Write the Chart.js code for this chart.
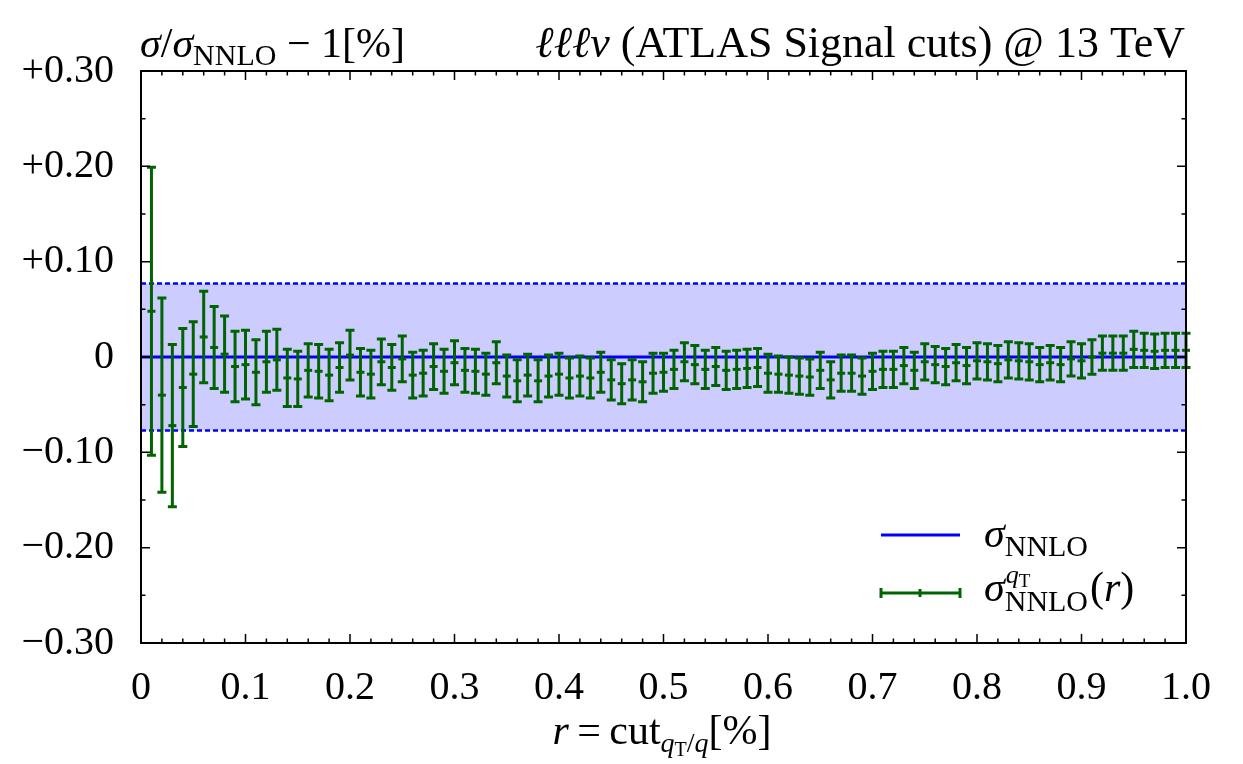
<!DOCTYPE html>
<html>
<head>
<meta charset="utf-8">
<script src="https://cdn.jsdelivr.net/npm/chart.js@4.4.0/dist/chart.umd.min.js"></script>
<style>
html,body{margin:0;padding:0;background:#fff;}
</style>
</head>
<body>
<canvas id="Plot" width="1243" height="764"></canvas>
<script>
// r = cut_{qT/q} values [%]
var rCut = [0.01,0.02,0.03,0.04,0.05,0.06,0.07,0.08,0.09,0.10,
            0.11,0.12,0.13,0.14,0.15,0.16,0.17,0.18,0.19,0.20,
            0.21,0.22,0.23,0.24,0.25,0.26,0.27,0.28,0.29,0.30,
            0.31,0.32,0.33,0.34,0.35,0.36,0.37,0.38,0.39,0.40,
            0.41,0.42,0.43,0.44,0.45,0.46,0.47,0.48,0.49,0.50,
            0.51,0.52,0.53,0.54,0.55,0.56,0.57,0.58,0.59,0.60,
            0.61,0.62,0.63,0.64,0.65,0.66,0.67,0.68,0.69,0.70,
            0.71,0.72,0.73,0.74,0.75,0.76,0.77,0.78,0.79,0.80,
            0.81,0.82,0.83,0.84,0.85,0.86,0.87,0.88,0.89,0.90,
            0.91,0.92,0.93,0.94,0.95,0.96,0.97,0.98,0.99,1.00];
// sigma^{qT}_{NNLO}(r)/sigma_NNLO - 1 [%]
var sigmaQT = [0.048,-0.040,-0.072,-0.032,-0.018,0.021,0.010,0.003,-0.010,-0.008,
               -0.016,-0.005,-0.003,-0.022,-0.023,-0.014,-0.015,-0.019,-0.011,0.002,
               -0.016,-0.018,-0.005,-0.011,-0.002,-0.019,-0.017,-0.010,-0.015,-0.006,
               -0.014,-0.015,-0.018,-0.006,-0.020,-0.025,-0.019,-0.025,-0.020,-0.018,
               -0.022,-0.020,-0.022,-0.016,-0.024,-0.028,-0.024,-0.026,-0.017,-0.016,
               -0.013,-0.005,-0.008,-0.013,-0.010,-0.014,-0.013,-0.012,-0.011,-0.017,
               -0.018,-0.019,-0.020,-0.021,-0.014,-0.024,-0.017,-0.017,-0.020,-0.015,
               -0.013,-0.013,-0.009,-0.014,-0.005,-0.008,-0.010,-0.006,-0.009,-0.004,
               -0.005,-0.007,-0.003,-0.004,-0.005,-0.008,-0.006,-0.008,-0.002,-0.004,
               0.000,0.004,0.004,0.004,0.008,0.007,0.006,0.007,0.007,0.007];
var sigmaErr = [0.151,0.102,0.085,0.062,0.055,0.048,0.043,0.040,0.037,0.036,
                0.034,0.032,0.032,0.030,0.029,0.028,0.028,0.027,0.026,0.026,
                0.025,0.025,0.024,0.024,0.024,0.024,0.024,0.024,0.023,0.023,
                0.023,0.023,0.022,0.022,0.022,0.022,0.022,0.022,0.022,0.022,
                0.021,0.021,0.021,0.021,0.021,0.021,0.021,0.021,0.021,0.020,
                0.020,0.020,0.020,0.020,0.020,0.020,0.020,0.020,0.020,0.020,
                0.019,0.019,0.019,0.019,0.019,0.019,0.019,0.019,0.019,0.019,
                0.019,0.019,0.019,0.019,0.019,0.019,0.019,0.019,0.019,0.019,
                0.019,0.019,0.019,0.019,0.019,0.018,0.018,0.018,0.018,0.018,
                0.018,0.018,0.018,0.018,0.019,0.018,0.018,0.018,0.018,0.018];
// sigma_NNLO uncertainty band
var bandHi = 0.077;
var bandLo = -0.077;
var xTickLabels = ["0","0.1","0.2","0.3","0.4","0.5","0.6","0.7","0.8","0.9","1.0"];
var yTickLabels = ["\u22120.30","\u22120.20","\u22120.10","0","+0.10","+0.20","+0.30"];

var serif = "'Liberation Serif', 'DejaVu Serif', serif";
var green = '#006400';
var blue = '#0000ff';

var qtPoints = rCut.map(function(r, i){ return {x: r, y: sigmaQT[i]}; });

function drawParts(c, parts, x, y) {
  var cx = x;
  parts.forEach(function(p){
    c.font = p[1] + ' ' + serif;
    c.fillText(p[0], cx, y + p[2]);
    cx += c.measureText(p[0]).width;
  });
  return cx;
}
function partsWidth(c, parts) {
  var w = 0;
  parts.forEach(function(p){ c.font = p[1] + ' ' + serif; w += c.measureText(p[0]).width; });
  return w;
}

var plotDecor = {
  id: 'plotDecor',
  afterDatasetsDraw: function(chart) {
    var c = chart.ctx, xs = chart.scales.x, ys = chart.scales.y;
    c.save();
    c.strokeStyle = green;
    c.lineWidth = 3;
    for (var i = 0; i < rCut.length; i++) {
      var px = xs.getPixelForValue(rCut[i]);
      var top = ys.getPixelForValue(sigmaQT[i] + sigmaErr[i]);
      var bot = ys.getPixelForValue(sigmaQT[i] - sigmaErr[i]);
      c.beginPath();
      c.moveTo(px, top); c.lineTo(px, bot);
      c.moveTo(px - 4.5, top); c.lineTo(px + 4.5, top);
      c.moveTo(px - 4.5, bot); c.lineTo(px + 4.5, bot);
      c.stroke();
    }
    c.restore();
  },
  afterDraw: function(chart) {
    var c = chart.ctx, a = chart.chartArea, xs = chart.scales.x, ys = chart.scales.y;
    c.save();
    c.strokeStyle = '#000';
    c.lineWidth = 2;
    c.strokeRect(a.left, a.top, a.right - a.left, a.bottom - a.top);
    // inward ticks
    c.lineWidth = 1.5;
    c.beginPath();
    for (var k = 0; k <= 50; k++) {
      var px = xs.getPixelForValue(k * 0.02);
      var len = (k % 5 === 0) ? 9 : 4.5;
      c.moveTo(px, a.bottom); c.lineTo(px, a.bottom - len);
      c.moveTo(px, a.top); c.lineTo(px, a.top + len);
    }
    for (var j = 0; j <= 12; j++) {
      var py = ys.getPixelForValue(-0.3 + j * 0.05);
      var l2 = (j % 2 === 0) ? 9 : 4.5;
      c.moveTo(a.left, py); c.lineTo(a.left + l2, py);
      c.moveTo(a.right, py); c.lineTo(a.right - l2, py);
    }
    c.stroke();

    // titles
    c.fillStyle = '#000';
    c.textBaseline = 'alphabetic';
    c.textAlign = 'left';
    drawParts(c, [["\u03c3", "italic 42px", 0], ["/", "42px", 0], ["\u03c3", "italic 42px", 0],
                  ["NNLO", "30px", 8], [" \u2212 1[%]", "42px", 0]], 140, 57);
    var rt = [["\u2113\u2113\u2113\u03bd", "italic 44px", 0], [" (ATLAS Signal cuts) @ 13 TeV", "44px", 0]];
    drawParts(c, rt, 1185 - partsWidth(c, rt), 57);
    var xt = [["r", "italic 42px", 0], ["\u2009=\u2009cut", "42px", 0], ["q", "italic 28px", 8], ["T", "20px", 12],
              ["/", "28px", 8], ["q", "italic 28px", 8], ["[%]", "42px", 0]];
    drawParts(c, xt, 662 - partsWidth(c, xt) / 2, 744);

    // legend
    c.lineWidth = 3;
    c.strokeStyle = blue;
    c.beginPath(); c.moveTo(881, 535); c.lineTo(960, 535); c.stroke();
    c.strokeStyle = green;
    c.beginPath();
    c.moveTo(881, 593); c.lineTo(960, 593);
    c.moveTo(881, 588); c.lineTo(881, 598);
    c.moveTo(920, 589); c.lineTo(920, 597);
    c.moveTo(960, 588); c.lineTo(960, 598);
    c.stroke();
    drawParts(c, [["\u03c3", "italic 42px", 0], ["NNLO", "30px", 9]], 984, 547);
    c.font = 'italic 42px ' + serif;
    c.fillText("\u03c3", 984, 601);
    var sx = 984 + c.measureText("\u03c3").width;
    drawParts(c, [["q", "italic 26px", 0], ["T", "19px", 4]], sx + 1, 583);
    var ex = drawParts(c, [["NNLO", "30px", 0]], sx, 611);
    drawParts(c, [["(", "42px", 0], ["r", "italic 42px", 0], [")", "42px", 0]], ex + 2, 601);
    c.restore();
  }
};

var chart = new Chart(document.getElementById('Plot').getContext('2d'), {
  type: 'scatter',
  data: {
    datasets: [
      {
        label: 'band up',
        data: [{x: 0, y: bandHi}, {x: 1, y: bandHi}],
        showLine: true,
        borderColor: blue,
        borderWidth: 2.5,
        borderDash: [5, 3],
        backgroundColor: 'rgb(204,204,255)',
        fill: '+1',
        pointRadius: 0,
        order: 5
      },
      {
        label: 'band down',
        data: [{x: 0, y: bandLo}, {x: 1, y: bandLo}],
        showLine: true,
        borderColor: blue,
        borderWidth: 2.5,
        borderDash: [5, 3],
        fill: false,
        pointRadius: 0,
        order: 4
      },
      {
        label: 'sigma NNLO',
        data: [{x: 0, y: 0}, {x: 1, y: 0}],
        showLine: true,
        borderColor: blue,
        borderWidth: 3,
        pointRadius: 0,
        order: 2
      },
      {
        label: 'sigma qT',
        data: qtPoints,
        showLine: false,
        pointStyle: 'line',
        pointRadius: 4,
        borderColor: green,
        backgroundColor: green,
        borderWidth: 3,
        clip: false,
        order: 1
      }
    ]
  },
  options: {
    responsive: false,
    animation: false,
    layout: { padding: { top: 71, right: 57, left: 0, bottom: 0 } },
    plugins: {
      legend: { display: false },
      tooltip: { enabled: false }
    },
    scales: {
      x: {
        type: 'linear',
        min: 0, max: 1,
        grid: { display: false },
        border: { display: false },
        ticks: {
          stepSize: 0.1,
          padding: 13,
          color: '#000',
          font: { family: serif, size: 40 },
          maxRotation: 0,
          callback: function(v, i) { return xTickLabels[i]; }
        },
        afterFit: function(s) { s.height = 121; }
      },
      y: {
        min: -0.3, max: 0.3,
        grid: { display: false },
        border: { display: false },
        ticks: {
          stepSize: 0.1,
          padding: 19,
          color: '#000',
          font: { family: serif, size: 40 },
          callback: function(v, i) { return yTickLabels[i]; }
        },
        afterFit: function(s) { s.width = 141; }
      }
    }
  },
  plugins: [plotDecor]
});
</script>
</body>
</html>
